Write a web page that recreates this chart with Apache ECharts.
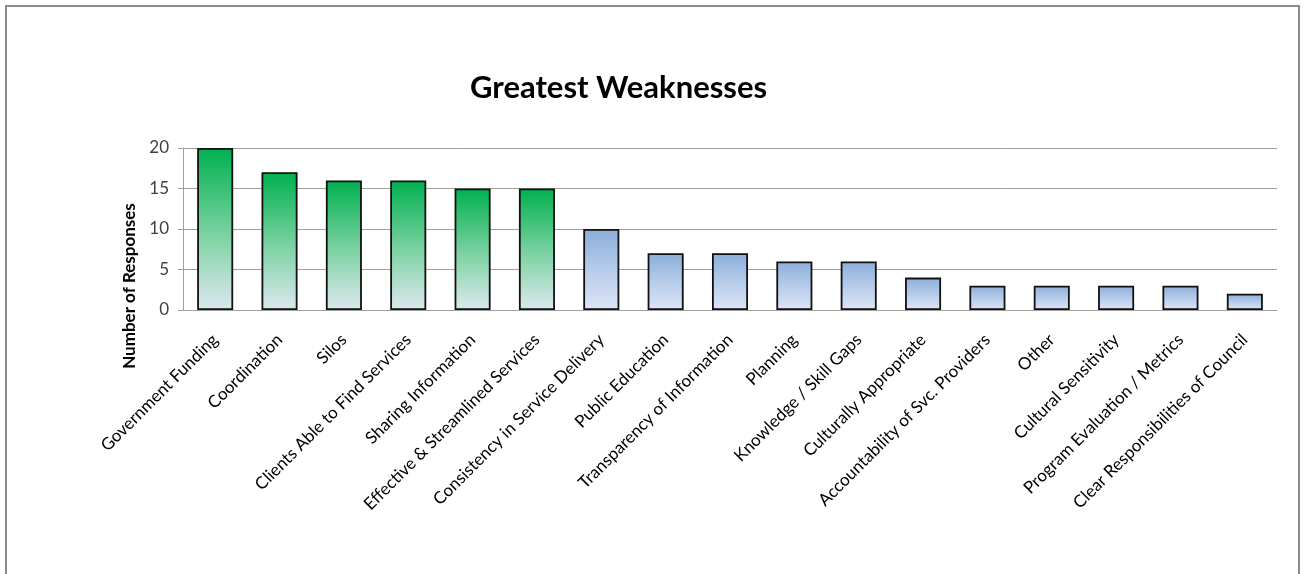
<!DOCTYPE html>
<html><head><meta charset="utf-8">
<script src="https://cdn.jsdelivr.net/npm/echarts@6/dist/echarts.min.js"></script>
<style>
html,body{margin:0;padding:0;background:#fff;}
#frame{position:absolute;left:5px;top:5px;width:1291px;height:580px;border:2px solid #8c8c8c;border-bottom:none;}
#chart{position:absolute;left:0;top:0;width:1306px;height:574px;}
</style></head>
<body>
<div id="frame"></div>
<div id="chart"></div>
<script>
const categories = ["Government Funding","Coordination","Silos","Clients Able to Find Services","Sharing Information","Effective & Streamlined Services","Consistency in Service Delivery","Public Education","Transparency of Information","Planning","Knowledge / Skill Gaps","Culturally Appropriate","Accountability of Svc. Providers","Other","Cultural Sensitivity","Program Evaluation / Metrics","Clear Responsibilities of Council"];
const responses = [20,17,16,16,15,15,10,7,7,6,6,4,3,3,3,3,2];
const highlightCount = 6;
const yTicks = [0,5,10,15,20];

const green = {type:'linear',x:0,y:0,x2:0,y2:1,colorStops:[{offset:0,color:'#00b050'},{offset:0.55,color:'#7fd3a4'},{offset:1,color:'#dde8f0'}]};
const blue = {type:'linear',x:0,y:0,x2:0,y2:1,colorStops:[{offset:0,color:'#8caed9'},{offset:0.5,color:'#b6cbea'},{offset:1,color:'#dde6f4'}]};

const chart = echarts.init(document.getElementById('chart'));
chart.setOption({
  animation:false,
  title:{text:'Greatest Weaknesses',left:465,top:67,textStyle:{fontFamily:'Lato',fontWeight:'bold',fontSize:31,color:'#000'}},
  grid:{left:183,right:29,top:148,bottom:264,containLabel:false},
  xAxis:{type:'category',data:categories,
    axisLine:{lineStyle:{color:'#a0a0a0',width:1}},
    axisTick:{show:false},
    axisLabel:{rotate:45,interval:0,margin:27,fontFamily:'Lato',fontSize:17,color:'#000'}},
  yAxis:{type:'value',min:yTicks[0],max:yTicks[yTicks.length-1],interval:5,
    name:'Number of Responses',nameLocation:'middle',nameGap:44,
    nameTextStyle:{fontFamily:'Lato',fontWeight:'bold',fontSize:17,color:'#000',padding:[0,114,0,0]},
    axisLine:{show:true,lineStyle:{color:'#a0a0a0'}},
    axisTick:{show:true,inside:false,length:5,lineStyle:{color:'#a0a0a0'}},
    splitLine:{lineStyle:{color:'#a0a0a0',width:1}},
    axisLabel:{fontFamily:'Lato',fontSize:17,color:'#404040',margin:14}},
  series:[{type:'bar',barWidth:'56%',
    data:responses.map((v,i)=>({value:v,itemStyle:{color:i<highlightCount?green:blue}})),
    itemStyle:{borderColor:'#111',borderWidth:1.8}}]
});
</script>
</body></html>
